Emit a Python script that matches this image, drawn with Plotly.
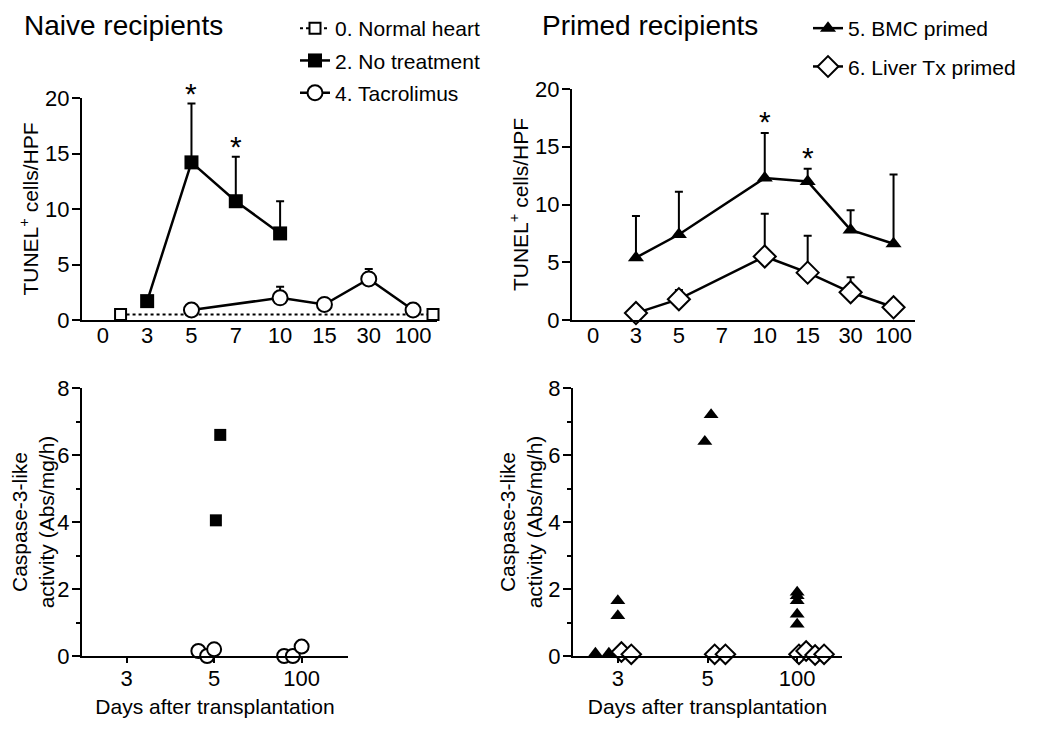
import plotly.graph_objects as go

# ---------------- data ----------------
day_labels = ["0", "3", "5", "7", "10", "15", "30", "100"]
caspase_days = ["3", "5", "100"]

# Naive recipients - TUNEL+ cells/HPF (mean, upper SD)
normal_heart_x = [0.4, 7.45]          # category-index span of the normal-heart reference line
normal_heart_mean = [0.5, 0.5]

no_treat_days = ["3", "5", "7", "10"]
no_treat_mean = [1.7, 14.2, 10.7, 7.8]
no_treat_sd = [0.0, 5.3, 4.0, 2.9]

tacro_days = ["5", "10", "15", "30", "100"]
tacro_mean = [0.9, 2.0, 1.4, 3.7, 0.9]
tacro_sd = [0.0, 1.0, 0.0, 0.9, 0.0]

naive_sig_days = ["5", "7"]

# Primed recipients - TUNEL+ cells/HPF
bmc_days = ["3", "5", "10", "15", "30", "100"]
bmc_mean = [5.4, 7.4, 12.3, 12.0, 7.8, 6.6]
bmc_sd = [3.6, 3.7, 3.9, 1.1, 1.7, 6.0]

liver_days = ["3", "5", "10", "15", "30", "100"]
liver_mean = [0.6, 1.8, 5.5, 4.1, 2.4, 1.1]
liver_sd = [0.0, 0.8, 3.7, 3.2, 1.3, 0.0]

primed_sig_days = ["10", "15"]

# Caspase-3-like activity (individual animals, with horizontal jitter)
nt_casp_day = ["5", "5"]
nt_casp_val = [4.05, 6.6]
nt_casp_jit = [0.02, 0.07]

tac_casp_day = ["5", "5", "5", "100", "100", "100"]
tac_casp_val = [0.15, 0.0, 0.2, 0.0, 0.0, 0.28]
tac_casp_jit = [-0.18, -0.08, 0.0, -0.2, -0.1, 0.0]

bmc_casp_day = ["3", "3", "3", "3", "5", "5", "100", "100", "100", "100", "100"]
bmc_casp_val = [0.08, 0.08, 1.2, 1.65, 6.4, 7.2, 0.95, 1.25, 1.65, 1.8, 1.9]
bmc_casp_jit = [-0.25, -0.1, 0.0, 0.0, -0.03, 0.04, 0.0, 0.0, 0.0, 0.0, 0.0]

liver_casp_day = ["3", "3", "5", "5", "100", "100", "100", "100"]
liver_casp_val = [0.12, 0.05, 0.05, 0.05, 0.05, 0.15, 0.03, 0.05]
liver_casp_jit = [0.04, 0.15, 0.08, 0.2, 0.02, 0.1, 0.2, 0.3]

TUNEL_MAX = 20
CASP_MAX = 8

# ---------------- helpers ----------------
FONT = "Liberation Sans, Arial, Helvetica, sans-serif"
W, H = 1050, 735


def idx(days, labels):
    return [labels.index(d) for d in days]


def jit(days, offs, labels):
    return [labels.index(d) + o for d, o in zip(days, offs)]


def sig_y(days, sig, mean, sd, pad=0.95):
    return [mean[days.index(d)] + sd[days.index(d)] + pad for d in sig]


def err(sd):
    return dict(type="data", symmetric=False, array=sd, arrayminus=[0] * len(sd),
                color="black", thickness=2, width=4)


fig = go.Figure()

# ---- top-left: naive TUNEL ----
fig.add_trace(go.Scatter(
    x=normal_heart_x, y=normal_heart_mean, mode="lines+markers", name="0. Normal heart",
    line=dict(color="black", width=2, dash="dot"),
    marker=dict(symbol="square", size=11, color="white", line=dict(color="black", width=2)),
    xaxis="x", yaxis="y", legend="legend", legendgroup="a", cliponaxis=False))
fig.add_trace(go.Scatter(
    x=idx(no_treat_days, day_labels), y=no_treat_mean, mode="lines+markers", name="2. No treatment",
    line=dict(color="black", width=2.5),
    marker=dict(symbol="square", size=14, color="black"),
    error_y=err(no_treat_sd), xaxis="x", yaxis="y", legend="legend", legendgroup="b", cliponaxis=False))
fig.add_trace(go.Scatter(
    x=idx(tacro_days, day_labels), y=tacro_mean, mode="lines+markers", name="4. Tacrolimus",
    line=dict(color="black", width=2.5),
    marker=dict(symbol="circle", size=15, color="white", line=dict(color="black", width=2)),
    error_y=err(tacro_sd), xaxis="x", yaxis="y", legend="legend", legendgroup="c", cliponaxis=False))

# ---- top-right: primed TUNEL ----
fig.add_trace(go.Scatter(
    x=idx(bmc_days, day_labels), y=bmc_mean, mode="lines+markers", name="5. BMC primed",
    line=dict(color="black", width=2.5),
    marker=dict(symbol="triangle-up", size=14, color="black"),
    error_y=err(bmc_sd), xaxis="x2", yaxis="y2", legend="legend2", legendgroup="d", cliponaxis=False))
fig.add_trace(go.Scatter(
    x=idx(liver_days, day_labels), y=liver_mean, mode="lines+markers", name="6. Liver Tx primed",
    line=dict(color="black", width=2.5),
    marker=dict(symbol="diamond", size=17, color="white", line=dict(color="black", width=2)),
    error_y=err(liver_sd), xaxis="x2", yaxis="y2", legend="legend2", legendgroup="e", cliponaxis=False))

# ---- bottom-left: naive caspase ----
fig.add_trace(go.Scatter(
    x=jit(nt_casp_day, nt_casp_jit, caspase_days), y=nt_casp_val, mode="markers",
    marker=dict(symbol="square", size=12, color="black"), showlegend=False,
    xaxis="x3", yaxis="y3", cliponaxis=False))
fig.add_trace(go.Scatter(
    x=jit(tac_casp_day, tac_casp_jit, caspase_days), y=tac_casp_val, mode="markers",
    marker=dict(symbol="circle", size=14, color="white", line=dict(color="black", width=2)),
    showlegend=False, xaxis="x3", yaxis="y3", cliponaxis=False))

# ---- bottom-right: primed caspase ----
fig.add_trace(go.Scatter(
    x=jit(bmc_casp_day, bmc_casp_jit, caspase_days), y=bmc_casp_val, mode="markers",
    marker=dict(symbol="triangle-up", size=13, color="black"), showlegend=False,
    xaxis="x4", yaxis="y4", cliponaxis=False))
fig.add_trace(go.Scatter(
    x=jit(liver_casp_day, liver_casp_jit, caspase_days), y=liver_casp_val, mode="markers",
    marker=dict(symbol="diamond", size=15, color="white", line=dict(color="black", width=2)),
    showlegend=False, xaxis="x4", yaxis="y4", cliponaxis=False))

# ---- significance asterisks (placed above the upper SD bar) ----
annotations = []
for xa, ya, days, sig, mean, sd in [
        ("x", "y", no_treat_days, naive_sig_days, no_treat_mean, no_treat_sd),
        ("x2", "y2", bmc_days, primed_sig_days, bmc_mean, bmc_sd)]:
    for d, yv in zip(sig, sig_y(days, sig, mean, sd)):
        annotations.append(dict(text="*", x=day_labels.index(d), y=yv / TUNEL_MAX,
                                xref=xa, yref=ya + " domain",
                                xanchor="center", yanchor="middle", showarrow=False,
                                font=dict(size=30, family=FONT, color="black")))

annotations += [
    dict(text="Naive recipients", x=14 / W, y=1, xref="paper", yref="paper",
         xanchor="left", yanchor="top", showarrow=False, font=dict(size=28, family=FONT)),
    dict(text="Primed recipients", x=532 / W, y=1, xref="paper", yref="paper",
         xanchor="left", yanchor="top", showarrow=False, font=dict(size=28, family=FONT)),
]

# ---------------- axes ----------------
def px_x(a, b):
    return [a / W, b / W]


def px_y(top, bottom):
    return [1 - bottom / H, 1 - top / H]


axis_common = dict(showline=True, linecolor="black", linewidth=2, showgrid=False, zeroline=False,
                   automargin=False,
                   tickfont=dict(size=22, color="black", family=FONT), tickcolor="black")

top_x = dict(axis_common, tickmode="array", tickvals=list(range(len(day_labels))),
             ticktext=day_labels, ticks="", ticklabelstandoff=-5)
bot_x = dict(axis_common, tickmode="array", tickvals=list(range(len(caspase_days))),
             ticktext=caspase_days, ticks="outside", ticklen=5, tickwidth=2, ticklabelstandoff=-3,
             title=dict(text="Days after transplantation", font=dict(size=21, family=FONT), standoff=9))
top_y = dict(axis_common, range=[0, TUNEL_MAX], tickvals=[0, 5, 10, 15, 20], ticks="outside",
             ticklen=8, tickwidth=2, ticklabelstandoff=-2,
             title=dict(text="TUNEL<sup>+</sup> cells/HPF", font=dict(size=21, family=FONT), standoff=1))
bot_y = dict(axis_common, range=[0, CASP_MAX], tickvals=[0, 2, 4, 6, 8], ticks="outside", ticklen=8,
             tickwidth=2, ticklabelstandoff=-2,
             minor=dict(dtick=1, ticks="outside", ticklen=4, tickwidth=2, tickcolor="black"),
             title=dict(text="Caspase-3-like<br>activity (Abs/mg/h)", font=dict(size=21, family=FONT),
                        standoff=0))

fig.update_layout(
    template="none",
    width=W, height=H, margin=dict(l=0, r=0, t=0, b=0, autoexpand=False),
    paper_bgcolor="white", plot_bgcolor="white",
    font=dict(family=FONT, size=21, color="black"),
    xaxis=dict(top_x, domain=px_x(74, 429), range=[-0.47, 7.54], anchor="y"),
    yaxis=dict(top_y, domain=px_y(90, 312), anchor="x"),
    xaxis2=dict(top_x, domain=px_x(564, 907), range=[-0.49, 7.5], anchor="y2"),
    yaxis2=dict(top_y, domain=px_y(81, 312), anchor="x2"),
    xaxis3=dict(bot_x, domain=px_x(74, 340), range=[-0.51, 2.53], anchor="y3"),
    yaxis3=dict(bot_y, domain=px_y(380, 648), anchor="x3"),
    xaxis4=dict(bot_x, domain=px_x(565, 834), range=[-0.5, 2.5], anchor="y4"),
    yaxis4=dict(bot_y, domain=px_y(380, 648), anchor="x4"),
    legend=dict(x=287 / W, y=1, xanchor="left", yanchor="top", bgcolor="rgba(0,0,0,0)",
                font=dict(size=21, family=FONT), tracegroupgap=2, traceorder="grouped"),
    legend2=dict(x=800 / W, y=1, xanchor="left", yanchor="top", bgcolor="rgba(0,0,0,0)",
                 font=dict(size=21, family=FONT), tracegroupgap=8, traceorder="grouped"),
    annotations=annotations,
)

fig.write_html("out.html")
